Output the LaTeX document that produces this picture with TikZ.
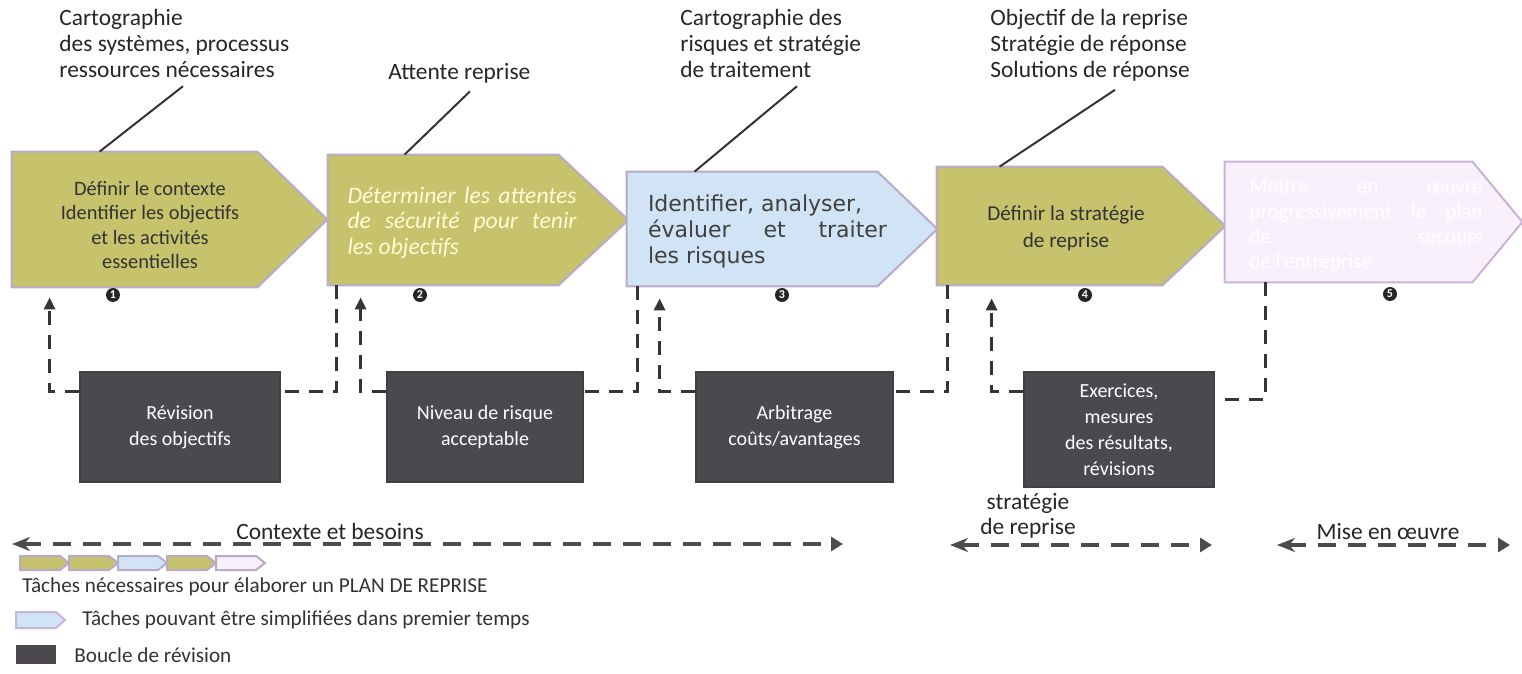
\documentclass[tikz,border=0pt]{standalone}
\usepackage{fontspec}
\setmainfont{Carlito}
\newfontfamily\verdanafont{DejaVu Sans}
\usetikzlibrary{positioning,arrows.meta}

\definecolor{stepgreen}{HTML}{C6C36C}
\definecolor{stepblue}{HTML}{D0E4F5}
\definecolor{steppink}{HTML}{F8F0FB}
\definecolor{stepline}{HTML}{B8AAC8}
\definecolor{pinkline}{HTML}{C8B3DA}
\definecolor{loopgray}{HTML}{4B484E}
\definecolor{dashgray}{HTML}{353535}
\definecolor{creamtext}{HTML}{FFFBD6}

\hyphenpenalty=10000

\begin{document}
\begin{tikzpicture}[
  x=0.5pt, y=-0.5pt,
  stepbody/.style = {draw=none, inner sep=0pt},
  stepshape/.style = {line width=1pt, line join=miter},
  steptext/.style = {inner sep=0pt, text=black!80, align=center, font=\fontsize{10.2}{12.3}\selectfont},
  topnote/.style = {inner sep=0pt, anchor=north west, align=left, text=black!85, font=\fontsize{11.7}{13}\selectfont},
  leader/.style = {draw=black!80, line width=1pt},
  numdot/.style = {circle, fill=black!85, text=white, inner sep=0pt, minimum size=7pt, font=\fontsize{6}{6}\selectfont\bfseries},
  loopbox/.style = {fill=loopgray, draw=black!75, line width=0.6pt, text=white, align=center, inner sep=0pt, font=\fontsize{10}{13}\selectfont},
  loopline/.style = {draw=dashgray, line width=1.5pt, dash pattern=on 7pt off 5pt},
  looptip/.style = {-{Triangle[length=6pt, width=5.5pt]}},
  phase/.style = {draw=black!70, line width=2pt, dash pattern=on 9pt off 6pt, arrows={Stealth[length=9pt, width=7pt]-Triangle[length=6pt, width=7pt]}},
  phasetext/.style = {inner sep=0pt, text=black!85, align=center, font=\fontsize{11.7}{12.5}\selectfont},
  legendtext/.style = {inner sep=0pt, anchor=west, text=black!80, font=\fontsize{10.6}{12}\selectfont}
]
\useasboundingbox (0,0) rectangle (1522,674);

% process steps (body of each arrow)
\node[stepbody, minimum width=122.5pt, minimum height=67.5pt] (s1) at (134.5,219.5) {};
\node[stepbody, minimum width=115pt, minimum height=65pt] (s2) at (443,220) {};
\node[stepbody, minimum width=125pt, minimum height=57pt] (s3) at (752,229) {};
\node[stepbody, minimum width=112.5pt, minimum height=59pt] (s4) at (1049.5,226) {};
\node[stepbody, minimum width=123.5pt, minimum height=60pt] (s5) at (1348.5,222) {};

\foreach \s/\c/\l/\t in {s1/stepgreen/stepline/35pt, s2/stepgreen/stepline/35pt,
    s3/stepblue/stepline/30pt, s4/stepgreen/stepline/31.5pt, s5/steppink/pinkline/25pt}
  \draw[stepshape, fill=\c, draw=\l] (\s.north west) -- (\s.north east)
    -- ([xshift=\t]\s.east) -- (\s.south east) -- (\s.south west) -- cycle;

\node[steptext] (t1) at (150,225) {Définir le contexte\\Identifier les objectifs\\et les activités\\essentielles};
\node[steptext, text=creamtext, text width=114.5pt, align=justify,
  font=\itshape\fontsize{11.8}{12.8}\selectfont] (t2) at (462,222.5)
  {Déterminer les attentes\linebreak de sécurité pour tenir\linebreak les objectifs};
\node[steptext, text=black!75, text width=119.5pt, align=justify,
  font=\verdanafont\fontsize{11}{13.2}\selectfont] (t3) at (767.5,231.5)
  {Identifier, analyser,\\évaluer et traiter\linebreak les risques};
\node[steptext, font=\fontsize{10.6}{13.5}\selectfont] (t4) at (1066,228.5) {Définir la stratégie\\de reprise};
\node[steptext, text=white, text width=116.5pt, align=justify,
  font=\fontsize{10.5}{12.5}\selectfont] (t5) at (1366,226)
  {Mettre en œuvre\linebreak progressivement le plan\linebreak de secours\linebreak de l'entreprise};

% step numbers
\node[numdot] (n1) at (113,295) {1};
\node[numdot] (n2) at (420,295) {2};
\node[numdot] (n3) at (782,295) {3};
\node[numdot] (n4) at (1085,295) {4};
\node[numdot] (n5) at (1390,294) {5};

% notes above the steps
\node[topnote] (c1) at (59,9) {Cartographie\\des systèmes, processus\\ressources nécessaires};
\node[topnote, anchor=west] (c2) at (388,73) {Attente reprise};
\node[topnote] (c3) at (680,9) {Cartographie des\\risques et stratégie\\de traitement};
\node[topnote] (c4) at (990,9) {Objectif de la reprise\\Stratégie de réponse\\Solutions de réponse};

\draw[leader] ([xshift=62pt, yshift=-4pt]c1.south west) -- ([xshift=44pt]s1.north west);
\draw[leader] ([xshift=41pt, yshift=-4pt]c2.south west) -- ([xshift=38.5pt]s2.north west);
\draw[leader] ([xshift=58.5pt, yshift=-4pt]c3.south west) -- ([xshift=34pt]s3.north west);
\draw[leader] ([xshift=62.5pt, yshift=-4pt]c4.south west) -- ([xshift=31.5pt]s4.north west);

% revision loops
\node[loopbox, minimum width=100pt, minimum height=55pt] (r1) at (180,427) {Révision\\des objectifs};
\node[loopbox, minimum width=98pt, minimum height=55pt] (r2) at (485,427) {Niveau de risque\\acceptable};
\node[loopbox, minimum width=98.5pt, minimum height=55pt] (r3) at (794.5,427) {Arbitrage\\coûts/avantages};
\node[loopbox, minimum width=95pt, minimum height=57.5pt] (r4) at (1119,429.5) {Exercices,\\mesures\\des résultats,\\révisions};

\draw[loopline] ([xshift=4.5pt]s2.south west) |- ([yshift=-10pt]r1.north east);
\draw[loopline, looptip] ([yshift=-10pt]r1.north west) -| ([xshift=19pt, yshift=-5pt]s1.south west);
\draw[loopline] ([xshift=5.5pt]s3.south west) |- ([yshift=-10pt]r2.north east);
\draw[loopline, looptip] ([yshift=-10pt]r2.north west) -| ([xshift=16.5pt, yshift=-6pt]s2.south west);
\draw[loopline] ([xshift=5.5pt]s4.south west) |- ([yshift=-10pt]r3.north east);
\draw[loopline, looptip] ([yshift=-10pt]r3.north west) -| ([xshift=16.5pt, yshift=-6pt]s3.south west);
\draw[loopline] ([xshift=20.5pt]s5.south west) |- ([yshift=-14pt]r4.north east);
\draw[loopline, looptip] ([yshift=-10pt]r4.north west) -| ([xshift=27.5pt, yshift=-6.5pt]s4.south west);

% phases
\coordinate (ctxL) at (12,544);
\coordinate (ctxR) at (843,544);
\coordinate (strL) at (950,545);
\coordinate (strR) at (1212,545);
\coordinate (mepL) at (1277,545);
\coordinate (mepR) at (1510,545);
\draw[phase] (ctxL) -- (ctxR);
\draw[phase] (strL) -- (strR);
\draw[phase] (mepL) -- (mepR);
\node[phasetext, anchor=base] (ctx) at (330,539) {Contexte et besoins};
\node[phasetext, anchor=north] (str) at (1028,493) {stratégie\\de reprise};
\node[phasetext, anchor=base] (mep) at (1388,539) {Mise en œuvre};

% legend
\foreach \i/\c in {0/stepgreen, 1/stepgreen, 2/stepblue, 3/stepgreen, 4/steppink}
  \draw[stepshape, fill=\c, draw=stepline] ({20+49*\i},556) -- ++(40,0) -- ++(9,7) -- ++(-9,7) -- ++(-40,0) -- cycle;
\node[legendtext] (lg1) at (22,587) {Tâches nécessaires pour élaborer un PLAN DE REPRISE};
\draw[stepshape, fill=stepblue, draw=pinkline] (16,612) -- ++(40,0) -- ++(9,8) -- ++(-9,8) -- ++(-40,0) -- cycle;
\node[legendtext] (lg2) at (82,620) {Tâches pouvant être simplifiées dans premier temps};
\fill[loopgray] (16,645) rectangle (56,664);
\node[legendtext] (lg3) at (74,655) {Boucle de révision};
\end{tikzpicture}
\end{document}
